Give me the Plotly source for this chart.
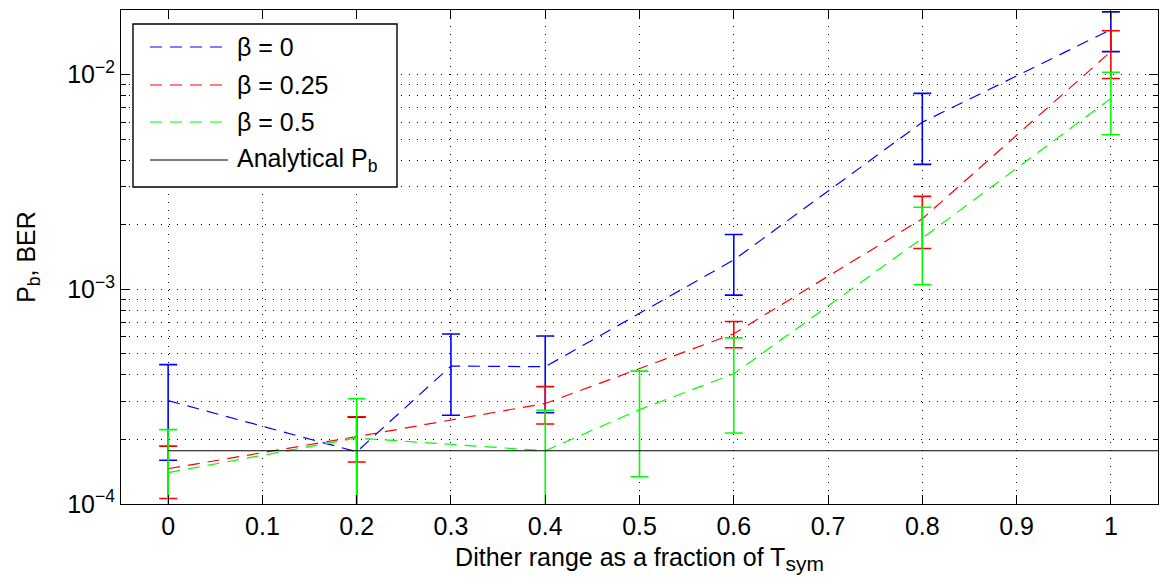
import plotly.graph_objects as go

# ---- data ----
x_blue = [0, 0.2, 0.3, 0.4, 0.6, 0.8, 1.0]
ber_blue = [3.03e-4, 1.75e-4, 4.39e-4, 4.36e-4, 1.37e-3, 6.0e-3, 1.62e-2]
err_blue = [1.43e-4, 0.79e-4, 1.80e-4, 1.70e-4, 0.43e-3, 2.18e-3, 0.34e-2]

x_red = [0, 0.2, 0.4, 0.6, 0.8, 1.0]
ber_red = [1.46e-4, 2.06e-4, 2.94e-4, 6.21e-4, 2.13e-3, 1.28e-2]
err_red = [0.40e-4, 0.49e-4, 0.58e-4, 0.87e-4, 0.58e-3, 0.32e-2]

x_green = [0, 0.2, 0.4, 0.5, 0.6, 0.8, 1.0]
ber_green = [1.40e-4, 2.03e-4, 1.77e-4, 2.75e-4, 4.04e-4, 1.73e-3, 7.75e-3]
err_green = [0.82e-4, 1.06e-4, 0.96e-4, 1.41e-4, 1.90e-4, 0.68e-3, 2.5e-3]

x_analytical = [0, 1.1]
pb_analytical = [1.77e-4, 1.77e-4]

series_names = ["β = 0", "β = 0.25", "β = 0.5", "Analytical P<sub>b</sub>"]
series_colors = ["rgb(0,0,255)", "rgb(255,0,0)", "rgb(0,255,0)", "black"]
x_ticks = [0, 0.1, 0.2, 0.3, 0.4, 0.5, 0.6, 0.7, 0.8, 0.9, 1]
x_ticklabels = ["0", "0.1", "0.2", "0.3", "0.4", "0.5", "0.6", "0.7", "0.8", "0.9", "1"]
y_ticks = [1e-4, 1e-3, 1e-2]
y_ticklabels = ["10<sup>−4</sup>", "10<sup>−3</sup>", "10<sup>−2</sup>"]

FONT = "Liberation Sans, Arial, Helvetica, sans-serif"
FS = 25
DASH = "12px,8px"

# figure / plot-area geometry (pixels)
W, H = 1161, 587
ML, MR, MT, MB = 121, 3, 10, 83
PW, PH = W - ML - MR, H - MT - MB

def px(xp):
    return (xp - ML) / PW

def py(yp):
    return 1 - (yp - MT) / PH

fig = go.Figure()

def add_series(x, y, err, color, name):
    fig.add_trace(go.Scatter(
        x=x, y=y, mode="lines", name=name, showlegend=False,
        line=dict(color=color, width=1.2, dash=DASH),
        error_y=dict(type="data", array=err, visible=True,
                     color=color, thickness=1.6, width=9),
    ))

add_series(x_blue, ber_blue, err_blue, series_colors[0], series_names[0])
add_series(x_red, ber_red, err_red, series_colors[1], series_names[1])
add_series(x_green, ber_green, err_green, series_colors[2], series_names[2])

fig.add_trace(go.Scatter(
    x=x_analytical, y=pb_analytical, mode="lines", name=series_names[3],
    showlegend=False, line=dict(color="black", width=1.2),
))

# ---- legend box (MATLAB-style, long line samples) ----
shapes = [dict(type="rect", xref="paper", yref="paper",
               x0=px(133), x1=px(397), y0=py(187), y1=py(24),
               line=dict(color="black", width=1.4), fillcolor="white",
               layer="above")]
annotations = []
row_y = [47, 85, 122, 160]
for name, color, ry, i in zip(series_names, series_colors, row_y, range(4)):
    shapes.append(dict(type="line", xref="paper", yref="paper",
                       x0=px(150), x1=px(228), y0=py(ry), y1=py(ry),
                       line=dict(color=color, width=1.2,
                                 dash=("solid" if i == 3 else DASH)),
                       layer="above"))
    annotations.append(dict(xref="paper", yref="paper", x=px(235), y=py(ry),
                            xanchor="left", yanchor="middle", showarrow=False,
                            text=name, font=dict(size=FS, color="black")))

fig.update_layout(
    width=W, height=H,
    margin=dict(l=ML, r=MR, t=MT, b=MB),
    paper_bgcolor="white", plot_bgcolor="white",
    font=dict(family=FONT, size=FS, color="black"),
    showlegend=False,
    shapes=shapes, annotations=annotations,
    xaxis=dict(
        range=[-0.05, 1.05], tickvals=x_ticks, ticktext=x_ticklabels,
        ticks="inside", ticklen=9, tickcolor="black", tickwidth=1,
        showline=True, linecolor="black", linewidth=1.2, mirror="ticks",
        showgrid=True, gridcolor="black", gridwidth=1, griddash="1px,7px",
        zeroline=False, tickfont=dict(size=FS),
        title=dict(text="Dither range as a fraction of T<sub><span style='font-size:21px'>sym</span></sub>",
                   font=dict(size=FS), standoff=9),
    ),
    yaxis=dict(
        type="log", range=[-4, -1.699],
        tickvals=y_ticks, ticktext=y_ticklabels,
        ticks="inside", ticklen=9, tickcolor="black", tickwidth=1,
        showline=True, linecolor="black", linewidth=1.2, mirror="ticks",
        showgrid=True, gridcolor="black", gridwidth=1, griddash="1px,7px",
        zeroline=False, tickfont=dict(size=FS),
        minor=dict(dtick="D1", ticks="inside", ticklen=5, tickcolor="black",
                   showgrid=True, gridcolor="black", gridwidth=1,
                   griddash="1px,7px"),
        title=dict(text="P<sub>b</sub>, BER", font=dict(size=FS), standoff=24),
    ),
)

fig.write_html("out.html")
